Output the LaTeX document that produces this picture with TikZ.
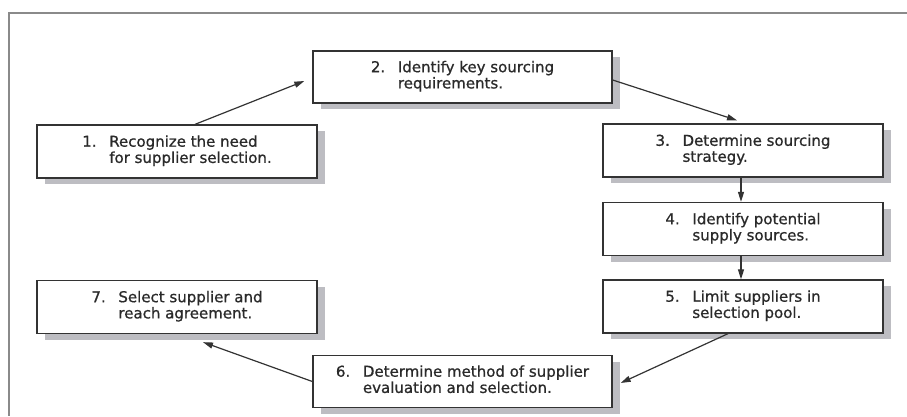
\documentclass[tikz,border=0pt]{standalone}
\usepackage{fontspec}
\setmainfont[FakeBold=0.8]{DejaVu Sans}
\usetikzlibrary{calc,arrows.meta,shadows}

\definecolor{inkline}{HTML}{333333}
\definecolor{inktext}{HTML}{2A2A2A}
\definecolor{shadowgray}{HTML}{BDBDC2}
\definecolor{framegray}{HTML}{8A8A8A}

% numbered two-line label with a hanging indent
\newcommand{\stepitem}[3]{%
  \begin{tabular}{@{}l@{}l@{}}
    \makebox[27pt][l]{#1} & #2\\
    & #3
  \end{tabular}}

\begin{document}
\begin{tikzpicture}[x=1pt,y=-1pt,
  stepbox/.style={draw=inkline, line width=1.3pt, fill=white,
    minimum width=280pt, minimum height=53pt, inner sep=0pt,
    text=inktext, font=\fontsize{15}{16}\selectfont,
    drop shadow={shadow xshift=8pt, shadow yshift=-6pt,
      fill=shadowgray, opacity=1}},
  widebox/.style={stepbox, minimum width=299pt, minimum height=52pt},
  arr/.style={draw=inkline, line width=1.2pt,
    -{Triangle[length=10pt,width=6pt]}}]

  \useasboundingbox (0,0) rectangle (907,416);

  % frame
  \draw[framegray, line width=2pt] (907,12.5) -- (8.5,12.5) -- (8.5,416);

  % steps
  \node[stepbox] (b1) at (177,151.5)
    {\stepitem{1.}{Recognize the need}{for supplier selection.}};
  \node[widebox] (b2) at (462.5,77)
    {\stepitem{2.}{Identify key sourcing}{requirements.}};
  \node[stepbox] (b3) at (743,150.5)
    {\stepitem{3.}{Determine sourcing}{strategy.}};
  \node[stepbox] (b4) at (743,229)
    {\stepitem{4.}{Identify potential}{supply sources.}};
  \node[stepbox] (b5) at (743,306.5)
    {\stepitem{5.}{Limit suppliers in}{selection pool.}};
  \node[widebox] (b6) at (462.5,381.5)
    {\stepitem{6.}{Determine method of supplier}{evaluation and selection.}};
  \node[stepbox] (b7) at (177,307)
    {\stepitem{7.}{Select supplier and}{reach agreement.}};

  % flow
  \draw[arr] ($(b1.north)+(18,0)$) -- ($(b2.west)+(-8,4)$);
  \draw[arr] ($(b2.east)+(0,3)$) -- ($(b3.north)+(-6,-3)$);
  \draw[arr] ($(b3.south)+(-2,0)$) -- ($(b4.north)+(-2,0)$);
  \draw[arr] ($(b4.south)+(-2,0)$) -- ($(b5.north)+(-2,0)$);
  \draw[arr] ($(b5.south)+(-15,0)$) -- ($(b6.east)+(8,1.5)$);
  \draw[arr] (b6.west) -- ($(b7.south)+(26,8)$);
\end{tikzpicture}
\end{document}
